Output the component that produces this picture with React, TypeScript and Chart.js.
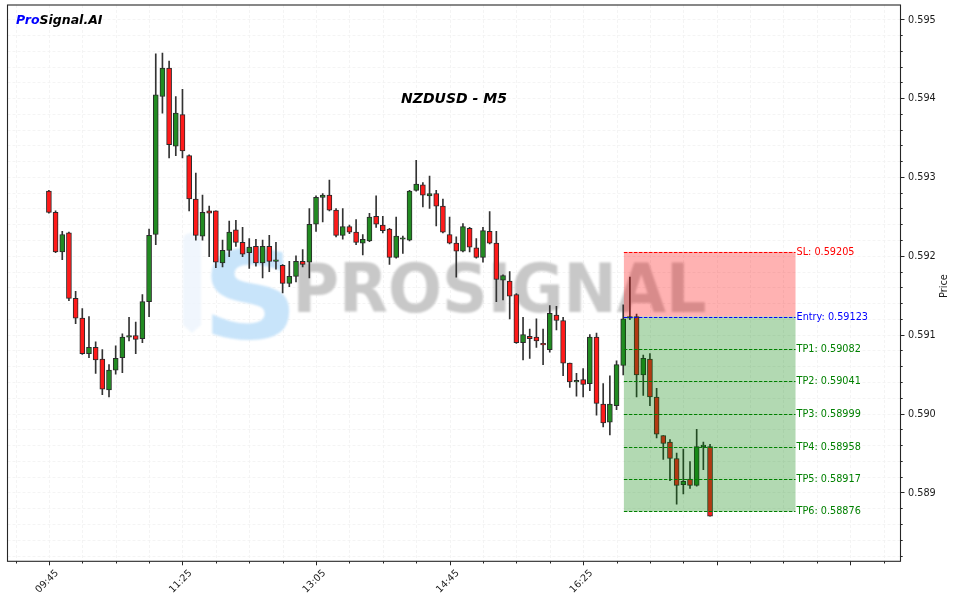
import React, { useEffect, useRef } from 'react';
import { Chart, registerables } from 'chart.js';

Chart.register(...registerables);

// ---- Data (NZDUSD M5, index 0 = 09:45) ----
const OPEN = [
  0.59282, 0.59255, 0.59205, 0.59229, 0.59146, 0.59121, 0.59076, 0.59084, 0.59069, 0.59030,
  0.59055, 0.59071, 0.59097, 0.59099, 0.59095, 0.59142, 0.59227, 0.59402, 0.59438, 0.59339,
  0.59379, 0.59327, 0.59272, 0.59225, 0.59257, 0.59257, 0.59191, 0.59207, 0.59233, 0.59217,
  0.59204, 0.59212, 0.59191, 0.59212, 0.59193, 0.59188, 0.59165, 0.59174, 0.59193, 0.59192,
  0.59240, 0.59274, 0.59277, 0.59258, 0.59226, 0.59237, 0.59230, 0.59216, 0.59219, 0.59250,
  0.59239, 0.59234, 0.59198, 0.59221, 0.59220, 0.59283, 0.59290, 0.59276, 0.59279, 0.59263,
  0.59227, 0.59216, 0.59206, 0.59235, 0.59210, 0.59198, 0.59231, 0.59216, 0.59169, 0.59168,
  0.59151, 0.59090, 0.59098, 0.59097, 0.59089, 0.59081, 0.59125, 0.59118, 0.59064, 0.59040,
  0.59043, 0.59038, 0.59097, 0.59012, 0.58989, 0.59010, 0.59061, 0.59121, 0.59123, 0.59049,
  0.59069, 0.59021, 0.58972, 0.58964, 0.58943, 0.58910, 0.58917, 0.58909, 0.58958, 0.58958,
];
const HIGH = [
  0.59283, 0.59257, 0.59231, 0.59230, 0.59155, 0.59133, 0.59123, 0.59091, 0.59081, 0.59062,
  0.59086, 0.59101, 0.59122, 0.59116, 0.59151, 0.59234, 0.59456, 0.59457, 0.59447, 0.59402,
  0.59411, 0.59328, 0.59305, 0.59277, 0.59263, 0.59257, 0.59220, 0.59244, 0.59245, 0.59236,
  0.59222, 0.59221, 0.59220, 0.59226, 0.59217, 0.59189, 0.59193, 0.59200, 0.59208, 0.59260,
  0.59276, 0.59279, 0.59296, 0.59260, 0.59260, 0.59239, 0.59246, 0.59227, 0.59254, 0.59276,
  0.59250, 0.59235, 0.59249, 0.59225, 0.59283, 0.59321, 0.59293, 0.59301, 0.59283, 0.59272,
  0.59249, 0.59224, 0.59241, 0.59236, 0.59222, 0.59236, 0.59256, 0.59231, 0.59176, 0.59180,
  0.59152, 0.59122, 0.59107, 0.59120, 0.59107, 0.59137, 0.59136, 0.59122, 0.59064, 0.59051,
  0.59057, 0.59100, 0.59102, 0.59038, 0.59048, 0.59067, 0.59138, 0.59173, 0.59126, 0.59074,
  0.59076, 0.59032, 0.58972, 0.58967, 0.58950, 0.58955, 0.58939, 0.58980, 0.58964, 0.58961,
];
const LOW = [
  0.59254, 0.59204, 0.59195, 0.59143, 0.59114, 0.59075, 0.59071, 0.59051, 0.59024, 0.59021,
  0.59050, 0.59052, 0.59092, 0.59076, 0.59090, 0.59123, 0.59214, 0.59381, 0.59324, 0.59327,
  0.59324, 0.59257, 0.59220, 0.59220, 0.59199, 0.59185, 0.59186, 0.59199, 0.59212, 0.59199,
  0.59184, 0.59187, 0.59172, 0.59180, 0.59183, 0.59153, 0.59161, 0.59167, 0.59186, 0.59172,
  0.59231, 0.59243, 0.59257, 0.59224, 0.59221, 0.59228, 0.59214, 0.59201, 0.59218, 0.59236,
  0.59229, 0.59189, 0.59197, 0.59203, 0.59219, 0.59282, 0.59262, 0.59260, 0.59238, 0.59229,
  0.59215, 0.59173, 0.59205, 0.59205, 0.59197, 0.59192, 0.59215, 0.59142, 0.59144, 0.59120,
  0.59089, 0.59068, 0.59070, 0.59084, 0.59062, 0.59078, 0.59106, 0.59048, 0.59033, 0.59022,
  0.59021, 0.59029, 0.58998, 0.58983, 0.58973, 0.59005, 0.59049, 0.59119, 0.59021, 0.59023,
  0.59010, 0.58969, 0.58942, 0.58915, 0.58885, 0.58898, 0.58905, 0.58908, 0.58929, 0.58870,
];
const CLOSE = [
  0.59255, 0.59205, 0.59227, 0.59146, 0.59121, 0.59076, 0.59084, 0.59068, 0.59031, 0.59055,
  0.59070, 0.59097, 0.59099, 0.59094, 0.59142, 0.59226, 0.59404, 0.59438, 0.59341, 0.59381,
  0.59333, 0.59272, 0.59226, 0.59255, 0.59254, 0.59192, 0.59207, 0.59230, 0.59217, 0.59202,
  0.59211, 0.59191, 0.59212, 0.59193, 0.59193, 0.59165, 0.59174, 0.59193, 0.59189, 0.59240,
  0.59274, 0.59277, 0.59258, 0.59226, 0.59237, 0.59230, 0.59217, 0.59221, 0.59249, 0.59240,
  0.59232, 0.59198, 0.59225, 0.59221, 0.59282, 0.59291, 0.59277, 0.59279, 0.59263, 0.59230,
  0.59216, 0.59206, 0.59237, 0.59211, 0.59198, 0.59232, 0.59216, 0.59170, 0.59175, 0.59149,
  0.59090, 0.59100, 0.59095, 0.59092, 0.59087, 0.59127, 0.59118, 0.59064, 0.59040, 0.59042,
  0.59037, 0.59097, 0.59013, 0.58988, 0.59012, 0.59062, 0.59120, 0.59123, 0.59049, 0.59070,
  0.59021, 0.58974, 0.58962, 0.58943, 0.58909, 0.58914, 0.58909, 0.58958, 0.58958, 0.58870,
];

const X_TICK_INDEX = [0, 20, 40, 60, 80, 100, 120];
const X_TICK_LABELS = ['09:45', '11:25', '13:05', '14:45', '16:25', '', ''];
const Y_TICK_VALUES = [0.589, 0.59, 0.591, 0.592, 0.593, 0.594, 0.595];
const Y_TICK_LABELS = ['0.589', '0.590', '0.591', '0.592', '0.593', '0.594', '0.595'];

const LEVEL_NAMES = ['SL', 'Entry', 'TP1', 'TP2', 'TP3', 'TP4', 'TP5', 'TP6'];
const LEVEL_VALUES = [0.59205, 0.59123, 0.59082, 0.59041, 0.58999, 0.58958, 0.58917, 0.58876];
const LEVEL_COLORS = ['#ff0000', '#0000ff', '#008000', '#008000', '#008000', '#008000', '#008000', '#008000'];
const ZONE_FROM = 86.1;
const ZONE_TO = 111.8;

const TITLE = 'NZDUSD - M5';
const Y_TITLE = 'Price';

const X_MIN = -6.2;
const X_MAX = 127.52;
const Y_MIN = 0.588127;
const Y_MAX = 0.59518;

const FONT = '"DejaVu Sans", sans-serif';
const UP = '#228b22';
const DOWN = '#ff1a1a';
const EDGE = '#2a2a2a';

function fitText(ctx: CanvasRenderingContext2D, text: string, x0: number, y0: number, x1: number, y1: number) {
  const m = ctx.measureText(text);
  const w = m.actualBoundingBoxLeft + m.actualBoundingBoxRight;
  const h = m.actualBoundingBoxAscent + m.actualBoundingBoxDescent;
  const sx = (x1 - x0) / w;
  const sy = (y1 - y0) / h;
  ctx.save();
  ctx.translate(x0, y0);
  ctx.scale(sx, sy);
  ctx.textAlign = 'left';
  ctx.textBaseline = 'alphabetic';
  ctx.fillText(text, m.actualBoundingBoxLeft, m.actualBoundingBoxAscent);
  ctx.restore();
}

const decor = {
  id: 'decor',
  beforeDraw(chart: any) {
    const ctx = chart.ctx;
    ctx.save();
    ctx.fillStyle = '#ffffff';
    ctx.fillRect(0, 0, chart.width, chart.height);
    ctx.restore();
  },
  beforeDatasetsDraw(chart: any) {
    const { ctx, chartArea: a, scales } = chart;
    const x = scales.x;
    const y = scales.y;
    ctx.save();
    ctx.beginPath();
    ctx.rect(a.left, a.top, a.right - a.left, a.bottom - a.top);
    ctx.clip();
    // grid
    ctx.strokeStyle = '#f1f1f1';
    ctx.lineWidth = 0.8;
    ctx.setLineDash([3, 2]);
    for (let k = -5; k <= 125; k += 5) {
      const px = Math.round(x.getPixelForValue(k)) + 0.5;
      ctx.beginPath();
      ctx.moveTo(px, a.top);
      ctx.lineTo(px, a.bottom);
      ctx.stroke();
    }
    for (let k = 2941; k <= 2975; k++) {
      const py = Math.round(y.getPixelForValue(k * 0.0002)) + 0.5;
      ctx.beginPath();
      ctx.moveTo(a.left, py);
      ctx.lineTo(a.right, py);
      ctx.stroke();
    }
    ctx.setLineDash([]);
    // watermark
    ctx.filter = 'blur(0.9px)';
    // pale bar
    ctx.fillStyle = 'rgba(236,244,252,0.8)';
    ctx.beginPath();
    ctx.moveTo(183, 240);
    ctx.quadraticCurveTo(183, 233, 192, 233);
    ctx.quadraticCurveTo(201, 233, 201, 240);
    ctx.lineTo(201, 325);
    ctx.lineTo(192, 333);
    ctx.lineTo(183, 325);
    ctx.closePath();
    ctx.fill();
    // blue S
    ctx.fillStyle = 'rgb(200,228,250)';
    ctx.font = 'bold 130px ' + FONT;
    fitText(ctx, 'S', 211, 248, 290, 340);
    // gray text
    ctx.fillStyle = 'rgb(200,200,200)';
    ctx.font = 'bold 70px ' + FONT;
    fitText(ctx, 'PROSIGNAL', 298, 262, 705, 313);
    ctx.filter = 'none';
    ctx.restore();
  },
  afterDatasetsDraw(chart: any) {
    const { ctx, chartArea: a, scales } = chart;
    const x = scales.x;
    const y = scales.y;
    ctx.save();
    // zones
    const zx0 = x.getPixelForValue(ZONE_FROM);
    const zx1 = x.getPixelForValue(ZONE_TO);
    const ySL = y.getPixelForValue(LEVEL_VALUES[0]);
    const yEn = y.getPixelForValue(LEVEL_VALUES[1]);
    const yT6 = y.getPixelForValue(LEVEL_VALUES[LEVEL_VALUES.length - 1]);
    ctx.fillStyle = 'rgba(255,0,0,0.3)';
    ctx.fillRect(zx0, ySL, zx1 - zx0, yEn - ySL);
    ctx.fillStyle = 'rgba(0,128,0,0.3)';
    ctx.fillRect(zx0, yEn, zx1 - zx0, yT6 - yEn);
    // level lines + labels
    ctx.lineWidth = 1;
    ctx.setLineDash([3.5, 1.5]);
    ctx.font = '9.7px ' + FONT;
    ctx.textAlign = 'left';
    ctx.textBaseline = 'middle';
    LEVEL_VALUES.forEach((v, i) => {
      const py = Math.round(y.getPixelForValue(v)) + 0.5;
      ctx.strokeStyle = LEVEL_COLORS[i];
      ctx.beginPath();
      ctx.moveTo(zx0, py);
      ctx.lineTo(zx1, py);
      ctx.stroke();
      ctx.fillStyle = LEVEL_COLORS[i];
      ctx.fillText(`${LEVEL_NAMES[i]}: ${v.toFixed(5)}`, zx1 + 1, py);
    });
    ctx.setLineDash([]);
    // spines
    ctx.strokeStyle = '#262626';
    ctx.lineWidth = 1.1;
    ctx.strokeRect(a.left, a.top, a.right - a.left, a.bottom - a.top);
    // x ticks
    ctx.lineWidth = 1;
    for (let k = -5; k <= 125; k += 5) {
      const px = Math.round(x.getPixelForValue(k)) + 0.5;
      const len = k % 20 === 0 ? 4 : 2.2;
      ctx.beginPath();
      ctx.moveTo(px, a.bottom);
      ctx.lineTo(px, a.bottom + len);
      ctx.stroke();
    }
    // y ticks (right)
    for (let k = 2941; k <= 2975; k++) {
      const py = Math.round(y.getPixelForValue(k * 0.0002)) + 0.5;
      const len = k % 5 === 0 ? 4 : 2.2;
      ctx.beginPath();
      ctx.moveTo(a.right, py);
      ctx.lineTo(a.right + len, py);
      ctx.stroke();
    }
    ctx.fillStyle = '#1a1a1a';
    ctx.font = '9.7px ' + FONT;
    ctx.textAlign = 'left';
    ctx.textBaseline = 'middle';
    Y_TICK_VALUES.forEach((v, i) => {
      ctx.fillText(Y_TICK_LABELS[i], a.right + 7.5, y.getPixelForValue(v) + 0.8);
    });
    ctx.textAlign = 'center';
    X_TICK_INDEX.forEach((k, i) => {
      const lab = X_TICK_LABELS[i];
      if (!lab) return;
      const px = x.getPixelForValue(k);
      ctx.save();
      ctx.translate(px - 1.7, a.bottom + 20.2);
      ctx.rotate(-Math.PI / 4);
      ctx.fillText(lab, 0, 0);
      ctx.restore();
    });
    // y title
    ctx.save();
    ctx.translate(944, (a.top + a.bottom) / 2 + 3);
    ctx.rotate(-Math.PI / 2);
    ctx.textAlign = 'center';
    ctx.textBaseline = 'middle';
    ctx.fillText(Y_TITLE, 0, 0);
    ctx.restore();
    // title
    ctx.fillStyle = '#000';
    ctx.font = 'italic bold 14px ' + FONT;
    ctx.textAlign = 'center';
    ctx.textBaseline = 'alphabetic';
    ctx.fillText(TITLE, 454, 102.5);
    // brand
    ctx.font = 'italic bold 12.5px ' + FONT;
    ctx.textAlign = 'left';
    ctx.fillStyle = '#0000ff';
    ctx.fillText('Pro', 16, 24);
    const w = ctx.measureText('Pro').width;
    ctx.fillStyle = '#000';
    ctx.fillText('Signal.AI', 16 + w, 24);
    ctx.restore();
  },
};

export default function App() {
  const ref = useRef<HTMLCanvasElement>(null);
  useEffect(() => {
    if (!ref.current) return;
    const idx = OPEN.map((_, i) => i);
    const chart = new Chart(ref.current, {
      type: 'bar',
      data: {
        datasets: [
          {
            label: 'body',
            data: idx.map((i) => ({ x: i, y: [OPEN[i], CLOSE[i]] })) as any,
            backgroundColor: idx.map((i) => (CLOSE[i] >= OPEN[i] ? UP : DOWN)),
            borderColor: EDGE,
            borderWidth: 1,
            borderSkipped: false,
            barThickness: 5,
            minBarLength: 1.5,
            grouped: false,
            order: 1,
          } as any,
          {
            label: 'wick',
            data: idx.map((i) => ({ x: i, y: [LOW[i], HIGH[i]] })) as any,
            backgroundColor: '#333333',
            borderWidth: 0,
            barThickness: 1,
            grouped: false,
            order: 2,
          } as any,
        ],
      },
      options: {
        responsive: false,
        animation: false,
        events: [],
        layout: { padding: { left: 7.5, right: 55.5, top: 5, bottom: 41.7 } },
        plugins: { legend: { display: false }, tooltip: { enabled: false }, title: { display: false } },
        scales: {
          x: { type: 'linear', min: X_MIN, max: X_MAX, offset: false, display: false },
          y: { type: 'linear', min: Y_MIN, max: Y_MAX, display: false },
        },
      },
      plugins: [decor],
    });
    return () => chart.destroy();
  }, []);
  return (
    <canvas
      ref={ref}
      width={956}
      height={603}
      style={{ position: 'absolute', left: 0, top: 0, width: 956, height: 603, display: 'block' }}
    />
  );
}
